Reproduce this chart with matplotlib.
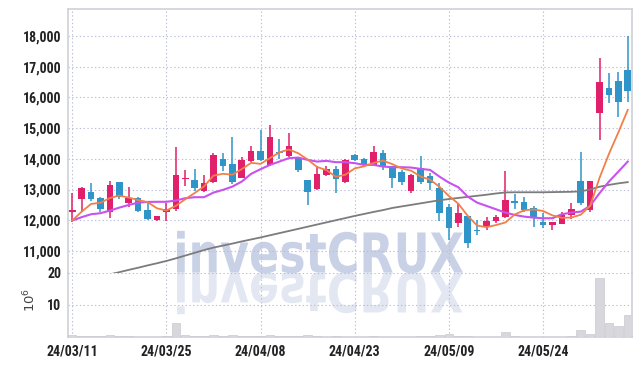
import pandas as pd
import matplotlib
matplotlib.use("Agg")
import matplotlib.pyplot as plt
from matplotlib.patches import PathPatch
from matplotlib.textpath import TextPath
from matplotlib.font_manager import FontProperties
from matplotlib.transforms import Affine2D
from matplotlib.ticker import FuncFormatter

# trading days (KRX holidays removed)
holidays = ["2024-04-10", "2024-05-01", "2024-05-06", "2024-05-15", "2024-06-06"]
dates = pd.bdate_range("2024-03-11", "2024-06-07", freq="C", holidays=holidays)

opens = [12280, 12690, 12920, 12730, 12270, 13250, 12570, 12730, 12340, 12010,
         12260, 12370, 13340, 13310, 12950, 13240, 13990, 13830, 13390, 13940,
         14260, 13800, 14200, 14100, 14040, 13310, 13020, 13480, 13670, 13250,
         14110, 13990, 13810, 14200, 13770, 13580, 12960, 13690, 13430, 13040,
         12420, 11900, 12140, 11690, 11770, 11970, 12100, 12610, 12590, 12410,
         11950, 11860, 11870, 12170, 13280, 12340, 15490, 16300, 16540, 16900]
highs = [12880, 13075, 13225, 12770, 13270, 13250, 13075, 12750, 12640, 12150,
         12560, 14380, 13640, 13660, 13480, 14200, 14180, 14700, 14070, 14420,
         14920, 15110, 14640, 14830, 14070, 13310, 13750, 13750, 13750, 13990,
         14140, 14030, 14430, 14290, 13770, 13640, 13500, 14100, 13540, 13220,
         12530, 12530, 12140, 12010, 12100, 12170, 13610, 12850, 12740, 12470,
         12250, 11950, 12280, 12550, 14220, 13280, 17280, 16790, 16820, 17980]
lows = [11950, 12280, 12640, 12280, 12075, 12680, 12420, 12270, 12000, 11990,
        11990, 12300, 13130, 12950, 12910, 13220, 13610, 13180, 13370, 13910,
        13940, 13770, 13990, 14070, 13560, 12480, 12990, 13450, 12880, 13220,
        13940, 13810, 13790, 13640, 13040, 13150, 12880, 13180, 13000, 11990,
        11360, 11770, 11090, 11520, 11680, 11920, 12060, 12370, 12280, 11770,
        11740, 11680, 11870, 12030, 12500, 12280, 14620, 15830, 15350, 15860]
closes = [12330, 13040, 12700, 12380, 13150, 12740, 12720, 12300, 12050, 12140,
          12370, 13480, 13380, 13060, 13220, 14130, 13770, 13240, 13960, 14240,
          13960, 14700, 14180, 14420, 13640, 12930, 13500, 13660, 13350, 13960,
          13960, 13830, 14220, 13730, 13390, 13260, 13480, 13260, 13220, 12230,
          11760, 12240, 11270, 11640, 11970, 12100, 12660, 12570, 12340, 12080,
          11860, 11950, 12170, 12370, 12550, 13280, 16510, 16080, 15860, 16220]

ma5 = [11990, 12280, 12530, 12570, 12721, 12802, 12737, 12657, 12591, 12389,
       12316, 12468, 12683, 12885, 13100, 13452, 13511, 13482, 13663, 13867,
       13834, 14021, 14209, 14301, 14181, 13975, 13734, 13630, 13415, 13480,
       13686, 13754, 13864, 13941, 13825, 13684, 13612, 13421, 13320, 13088,
       12789, 12541, 12144, 11827, 11775, 11843, 11927, 12187, 12326, 12350,
       12302, 12158, 12079, 12086, 12179, 12464, 13376, 14158, 14857, 15590]
ma10 = [11990, 12100, 12195, 12228, 12313, 12410, 12498, 12573, 12596, 12600,
        12600, 12640, 12717, 12749, 12750, 12900, 12987, 13094, 13257, 13510,
        13661, 13801, 13909, 14020, 14039, 13964, 13909, 13932, 13889, 13889,
        13857, 13801, 13801, 13746, 13726, 13726, 13714, 13671, 13638, 13420,
        13225, 13075, 12769, 12573, 12466, 12358, 12248, 12173, 12117, 12085,
        12065, 12065, 12195, 12248, 12280, 12466, 12879, 13257, 13583, 13909]
ma60 = [9950, 10020, 10095, 10165, 10240, 10310, 10385, 10455, 10530, 10600,
        10675, 10760, 10850, 10940, 11030, 11110, 11175, 11240, 11310, 11375,
        11440, 11510, 11580, 11650, 11720, 11790, 11860, 11930, 12000, 12070,
        12140, 12205, 12270, 12330, 12400, 12450, 12500, 12550, 12600, 12650,
        12690, 12725, 12760, 12795, 12830, 12870, 12905, 12910, 12910, 12910,
        12910, 12915, 12920, 12925, 12940, 13000, 13090, 13150, 13200, 13240]

# volume in millions of shares
volume = [0.8, 0.5, 0.5, 0.3, 0.6, 0.3, 0.3, 0.2, 0.2, 0.2,
          0.3, 4.3, 0.6, 0.3, 0.3, 0.8, 0.3, 0.8, 0.3, 0.3,
          0.4, 0.6, 0.3, 0.3, 0.3, 0.6, 0.3, 0.2, 0.5, 0.2,
          0.2, 0.2, 0.5, 0.2, 0.2, 0.2, 0.2, 0.4, 0.3, 0.6,
          0.9, 0.4, 0.4, 0.2, 0.2, 0.2, 1.6, 0.5, 0.2, 0.2,
          0.2, 0.2, 0.2, 0.4, 2.4, 0.9, 18.3, 4.3, 3.4, 6.8]

UP = "#e0206a"
DOWN = "#2f95c8"
GRID = "#b9bdd6"
SPINE = "#cfd0d8"
tick_font = FontProperties(family=["Roboto Condensed", "DejaVu Sans"], weight="bold", size=10)

x = list(range(len(dates)))
colors = [UP if c >= o else DOWN for o, c in zip(opens, closes)]
body_bottom = [min(o, c) for o, c in zip(opens, closes)]
body_height = [max(abs(c - o), 30) for o, c in zip(opens, closes)]

fig = plt.figure(figsize=(6.42, 3.66), dpi=100, facecolor="white")
ax = fig.add_axes([68 / 642, 1 - 272.7 / 366, 564 / 642, 263.7 / 366])
axv = fig.add_axes([68 / 642, 1 - 337.3 / 366, 564 / 642, 64.6 / 366], sharex=ax)
for a in (ax, axv):
    a.set_facecolor("none")

# watermark + reflection, behind the axes
fp = FontProperties(family="DejaVu Sans", weight="bold")
tp = TextPath((0, 0), "investCRUX", size=1, prop=fp)
ext = tp.get_extents()
sx = 286 / ext.width
sy = 40 / 0.729
x0 = 177 - ext.x0 * sx
base = 366 - 272.5
fig.add_artist(PathPatch(tp, transform=Affine2D().scale(sx, sy).translate(x0, base),
                         fc="#c9d1e7", ec="none", zorder=-2))
fig.add_artist(PathPatch(tp, transform=Affine2D().scale(sx, -sy).translate(x0, base),
                         fc="#c9d1e7", ec="none", alpha=0.5, zorder=-2))

# candles
ax.vlines(x, lows, highs, colors=colors, lw=1.1, zorder=3)
ax.bar(x, body_height, bottom=body_bottom, width=0.7, color=colors, zorder=4)
ax.plot(x, ma60, color="#7c7c7c", lw=1.3, zorder=5)
ax.plot(x, ma10, color="#c752ef", lw=1.5, zorder=5)
ax.plot(x, ma5, color="#f08048", lw=1.3, zorder=5)

axv.bar(x, volume, width=0.9, color="#d7d7dd", edgecolor="#c9c9cf", lw=0.5, zorder=3)

ax.set_xlim(-0.45, 59.45)
ax.set_ylim(10293, 18873)
axv.set_ylim(0, 20)

ax.set_yticks(range(11000, 18001, 1000))
ax.yaxis.set_major_formatter(FuncFormatter(lambda v, p: f"{int(v):,}"))
axv.set_yticks([10, 20])
ticks = list(range(0, 60, 10))
axv.set_xticks(ticks)
axv.set_xticklabels([dates[i].strftime("%y/%m/%d") for i in ticks])
ax.tick_params(axis="x", labelbottom=False, length=0)
ax.tick_params(axis="y", length=0, pad=5, colors="#222222")
axv.tick_params(length=0, pad=5, colors="#222222")
for lab in ax.get_yticklabels() + axv.get_yticklabels() + axv.get_xticklabels():
    lab.set_fontproperties(tick_font)

for a in (ax, axv):
    a.grid(True, color=GRID, lw=0.8, linestyle=(0, (1.2, 2.2)))
    a.set_axisbelow(True)
    for s in a.spines.values():
        s.set_color(SPINE)
        s.set_linewidth(1.2)
ax.spines["bottom"].set_visible(False)
axv.spines["top"].set_visible(False)

fig.text(30 / 642, 1 - 300 / 366, "$10^{6}$", rotation=90, ha="center", va="center",
         fontsize=9.5, color="#444444")

fig.savefig("out.png", dpi=100, facecolor="white")
